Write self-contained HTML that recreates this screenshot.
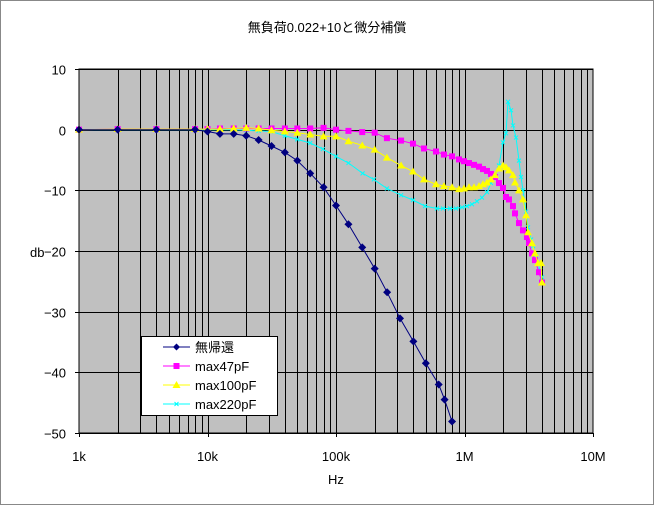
<!DOCTYPE html>
<html><head><meta charset="utf-8"><style>
body{margin:0;background:#fff;}
svg{display:block;font-family:"Liberation Sans","Noto Sans CJK JP",sans-serif;}
</style></head><body>
<svg id="chart" width="654" height="505" viewBox="0 0 654 505">
<rect x="0.5" y="0.5" width="653" height="504" fill="#fff" stroke="#888"/>
<text x="327" y="32" text-anchor="middle" font-size="13">無負荷0.022+10と微分補償</text>
<rect x="79" y="69" width="514" height="364" fill="#c0c0c0"/>
<g id="grid"></g>
<g id="axes"></g>
<g id="series"></g>
<rect x="79" y="69" width="514" height="364" fill="none" stroke="#000"/>
<text x="30" y="257" font-size="13">db</text>
<text x="336" y="484" text-anchor="middle" font-size="13">Hz</text>
<g>
<rect x="141.5" y="336.5" width="136" height="79" fill="#fff" stroke="#000"/>
<g><line x1="163" y1="347" x2="190" y2="347" stroke="#000080"/><path d="M176.5 343.5L180 347L176.5 350.5L173 347Z" fill="#000080"/><text x="195" y="352" font-size="13">無帰還</text></g>
<g><line x1="163" y1="366" x2="190" y2="366" stroke="#ff00ff"/><rect x="173.5" y="363" width="6" height="6" fill="#ff00ff"/><text x="195" y="371" font-size="13">max47pF</text></g>
<g><line x1="163" y1="385" x2="190" y2="385" stroke="#ffff00"/><path d="M176.5 381L180.5 388L172.5 388Z" fill="#ffff00"/><text x="195" y="390" font-size="13">max100pF</text></g>
<g><line x1="163" y1="404" x2="190" y2="404" stroke="#00ffff"/><path d="M174.5 402L178.5 406M178.5 402L174.5 406" stroke="#00ffff"/><text x="195" y="409" font-size="13">max220pF</text></g>
</g>
</svg>
<script>
const yTicks=[10,0,-10,-20,-30,-40,-50];
const xTickLabels=["1k","10k","100k","1M","10M"];
const xTickValues=[1,10,100,1000,10000];
// frequencies in kHz, levels in dB
const fNoFb=[1,2,4,8,10,12.5,16,20,25,31.5,40,50,63,80,100,125,160,200,250,315,400,500,630,700,800];
const dbNoFb=[0,0,0,0,-0.3,-0.7,-0.7,-1.0,-1.7,-2.7,-3.75,-5.1,-7.2,-9.5,-12.5,-15.6,-19.4,-22.9,-26.8,-31.1,-34.9,-38.5,-42.0,-44.5,-48.1];
const f47=[1,2,4,8,10,12.5,16,20,25,31.5,40,50,63,80,100,125,160,200,249,321,397,484,600,692,800,906,991,1084,1186,1297,1393,1496,1607,1726,1854,1993,2103,2219,2384,2472,2655,2852,3063,3177,3352,3537,3800,4009];
const db47=[0,0.1,0.1,0.1,0.1,0.2,0.2,0.2,0.2,0.2,0.2,0.2,0.2,0.3,0,-0.2,-0.4,-0.5,-1.4,-1.8,-2.3,-3.1,-3.6,-4.1,-4.4,-4.9,-5.2,-5.5,-5.8,-6.1,-6.5,-6.8,-7.3,-7.8,-8.8,-9.6,-11.1,-11.5,-12.6,-13.8,-15.4,-16.6,-17.7,-18.7,-20.4,-21.5,-23.5,-25.2];
const f100=[1,2,4,8,10,12.5,16,20,25,31.5,40,50,63,80,100,125,160,200,249,321,397,484,600,692,800,906,991,1084,1186,1297,1393,1496,1607,1726,1854,1993,2103,2219,2384,2472,2655,2852,3013,3119,3352,3537,3733,3940,4009];
const db100=[0,0.1,0.1,0.1,0.1,0.1,0.2,0.3,0.2,-0.1,-0.3,-0.5,-0.8,-1.1,-1.1,-1.9,-2.6,-3.3,-4.6,-5.9,-6.9,-8.2,-9.0,-9.3,-9.5,-9.8,-9.7,-9.5,-9.5,-9.3,-9.0,-8.7,-8.2,-7.5,-6.4,-5.9,-6.2,-6.7,-7.5,-8.7,-10,-11.5,-14.1,-16.9,-18.7,-20.4,-22,-22,-25.2];
const f220=[1,2,4,8,10,12.5,16,20,25,31.2,40,50,63,79,100,125,161,197,249,321,397,493,611,680,771,859,957,1045,1143,1250,1368,1496,1607,1726,1854,1993,2103,2182,2301,2384,2518,2655,2754,2852,3013,3119,3296,3415,3597,3733,3873,4009];
const db220=[0,0,0,0,0,0,0,-0.1,-0.2,-0.3,-1.0,-1.6,-2.2,-3.2,-4.4,-5.5,-7.2,-8.2,-9.7,-10.8,-11.6,-12.6,-13,-13,-13,-13,-12.8,-12.6,-12.3,-11.8,-11.2,-10.3,-8.8,-7.8,-5.9,-2.1,-0.6,4.6,3.2,0.7,-1.3,-5.1,-7.8,-10,-13.5,-16.1,-18.1,-19.2,-20.7,-22,-23.2,-24.3];

const NS='http://www.w3.org/2000/svg';
const X0=79,X1=593,Y0=69,Y1=433;
const xs=f=>X0+(Math.log10(f))*(X1-X0)/4;
const ys=d=>Y0+(10-d)*(Y1-Y0)/60;
function mk(tag,attrs,parent){const e=document.createElementNS(NS,tag);for(const k in attrs)e.setAttribute(k,attrs[k]);parent.appendChild(e);return e;}
const grid=document.getElementById('grid'),axes=document.getElementById('axes'),ser=document.getElementById('series');
for(let dec=0;dec<4;dec++){for(let m=1;m<=9;m++){if(dec===0&&m===1)continue;const x=Math.round(xs(Math.pow(10,dec)*m))+0.5;
const l=mk('line',{x1:x,x2:x,y1:Y0,y2:Y1,stroke:'#000','stroke-width':1},grid);

}}
yTicks.forEach(t=>{const y=Math.round(ys(t))+0.5;
const l=mk('line',{x1:X0-4,x2:X1,y1:y,y2:y,stroke:'#000'},grid);


const tx=mk('text',{x:66,y:y+5,'text-anchor':'end','font-size':13},axes);tx.textContent=t<0?'\u2212'+(-t):String(t);

});
xTickLabels.forEach((s,i)=>{const x=xs(xTickValues[i]);
const tk=mk('line',{x1:Math.round(x)+0.5,x2:Math.round(x)+0.5,y1:Y1,y2:Y1+4,stroke:'#000'},axes);


const tx=mk('text',{x:x,y:461,'text-anchor':'middle','font-size':13},axes);tx.textContent=s;

});
function series(fa,da,color,shape,name){const g=mk('g',{},ser);


const pts=fa.map((f,i)=>xs(f).toFixed(1)+','+ys(da[i]).toFixed(1)).join(' ');
mk('polyline',{points:pts,fill:'none',stroke:color,'stroke-width':1},g);
fa.forEach((f,i)=>{const x=xs(f),y=ys(da[i]);let m;
if(shape==='d')m=mk('path',{d:`M${x} ${y-4}L${x+4} ${y}L${x} ${y+4}L${x-4} ${y}Z`,fill:color},g);
else if(shape==='s')m=mk('rect',{x:x-3,y:y-3,width:6,height:6,fill:color},g);
else if(shape==='t')m=mk('path',{d:`M${x} ${y-4}L${x+4} ${y+3}L${x-4} ${y+3}Z`,fill:color},g);
else m=mk('path',{d:`M${x-2} ${y-2}L${x+2} ${y+2}M${x+2} ${y-2}L${x-2} ${y+2}`,stroke:color,'stroke-width':1},g);

});}
series(f220,db220,'#00ffff','x','series-max220pf');
series(f47,db47,'#ff00ff','s','series-max47pf');
series(f100,db100,'#ffff00','t','series-max100pf');
series(fNoFb,dbNoFb,'#000080','d','series-no-feedback');
</script>
</body></html>
